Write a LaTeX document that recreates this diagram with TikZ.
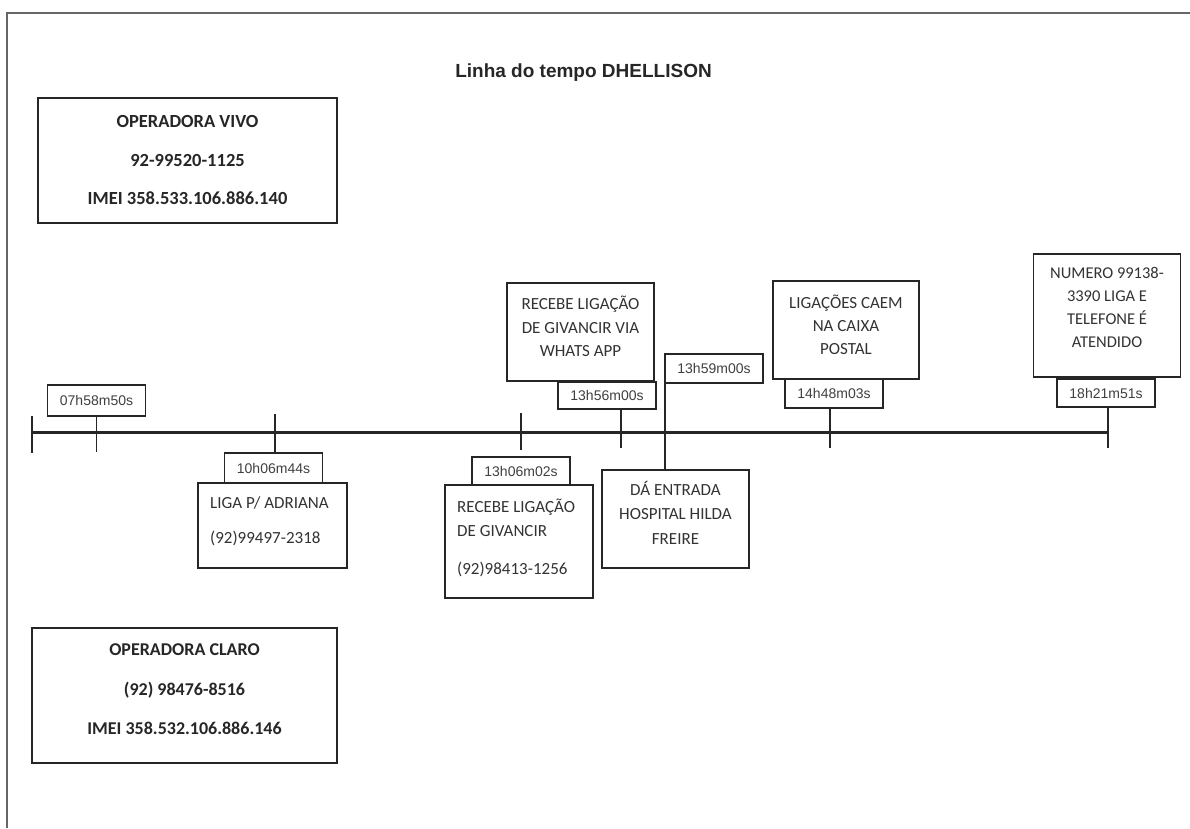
\documentclass[tikz,border=0pt]{standalone}
\usepackage{fontspec}
\setmainfont{Carlito}
\newfontfamily\arialf{Liberation Sans}
\begin{document}
\begin{tikzpicture}[x=1pt,y=-1pt,
  frameline/.style={draw=black!60, line width=2pt},
  box/.style={draw=black!85, line width=1.4pt, rectangle, inner sep=0pt, fill=white},
  optext/.style={font=\bfseries\fontsize{18.5}{38.5}\selectfont, text=black!85, align=center, inner sep=0pt},
  evtext/.style={font=\fontsize{17}{23.5}\selectfont, text=black!80, align=center, inner sep=0pt},
  timebox/.style={box, font=\arialf\fontsize{14}{16}\selectfont, text=black!75, minimum width=98pt},
  tickline/.style={line width=1.4pt, draw=black!85},
  titletext/.style={font=\arialf\bfseries\fontsize{19}{22}\selectfont, text=black!85, inner sep=0pt}
]
\fill[white] (0,0) rectangle (1190,828);
\useasboundingbox (0,0) rectangle (1190,828);
\draw[frameline] (7,828) -- (7,13) -- (1190,13);

\node[titletext] (title) at (583.5,73) {Linha do tempo DHELLISON};

% operator boxes
\node[box, minimum width=299pt, minimum height=125pt] (vivo) at (187.5,160.5) {};
\node[optext] (vivot) at (187.5,160) {OPERADORA VIVO\\92-99520-1125\\IMEI 358.533.106.886.140};
\node[box, minimum width=305pt, minimum height=135pt] (claro) at (184.5,695.5) {};
\node[optext, font=\bfseries\fontsize{18}{39.5}\selectfont] (clarot) at (184.5,689.5) {OPERADORA CLARO\\(92) 98476-8516\\IMEI 358.532.106.886.146};

% timeline
\coordinate (tlstart) at (32,432);
\coordinate (tlend) at (1108,432);
\draw[line width=3pt, black!85] (tlstart) -- (tlend);
\coordinate (k0a) at (32,416);
\coordinate (k0b) at (32,453);
\draw[tickline] (k0a) -- (k0b);

% event 1
\node[timebox, minimum height=31pt] (t1) at (96.5,400.5) {07h58m50s};
\coordinate (k1) at (96.5,452);
\draw[tickline] (t1.south) -- (k1);

% event 2
\node[timebox, minimum height=30pt] (t2) at (273.5,468) {10h06m44s};
\node[box, minimum width=149pt, minimum height=85pt] (e2) at (272.5,525.5) {};
\node[evtext, align=left, anchor=west] (e2t) at (210,521) {LIGA P/ ADRIANA\\[11.5pt](92)99497-2318};
\coordinate (k2) at (275,414);
\draw[tickline] (k2) -- (k2 |- t2.north);

% event 3
\node[timebox, minimum height=28pt] (t3) at (521,471) {13h06m02s};
\node[box, minimum width=148pt, minimum height=113pt] (e3) at (519,541.5) {};
\node[evtext, align=left, anchor=west] (e3t) at (457,538) {RECEBE LIGAÇÃO\\DE GIVANCIR\\[14.5pt](92)98413-1256};
\coordinate (k3a) at (521,413);
\coordinate (k3b) at (521,450);
\draw[tickline] (k3a) -- (k3b);

% event 4
\node[box, minimum width=147pt, minimum height=98pt] (e4) at (580.5,332) {};
\node[evtext] (e4t) at (580.5,326.5) {RECEBE LIGAÇÃO\\DE GIVANCIR VIA\\WHATS APP};
\node[timebox, minimum height=27pt] (t4) at (607,395.5) {13h56m00s};
\coordinate (k4a) at (621,409);
\coordinate (k4b) at (621,448);
\draw[tickline] (k4a) -- (k4b);

% event 5
\node[timebox, minimum height=29pt] (t5) at (714,368.5) {13h59m00s};
\node[box, minimum width=147pt, minimum height=98pt] (e5) at (675.5,519) {};
\node[evtext, font=\fontsize{17}{24.5}\selectfont] (e5t) at (675.5,512.5) {DÁ ENTRADA\\HOSPITAL HILDA\\FREIRE};
\coordinate (k5) at (665,383);
\draw[tickline] (k5) -- (k5 |- e5.north);

% event 6
\node[box, minimum width=146pt, minimum height=98pt] (e6) at (846,330) {};
\node[evtext, font=\fontsize{17}{23}\selectfont] (e6t) at (846,325) {LIGAÇÕES CAEM\\NA CAIXA\\POSTAL};
\node[timebox, minimum height=29pt] (t6) at (834,393.5) {14h48m03s};
\coordinate (k6a) at (830,408);
\coordinate (k6b) at (830,448);
\draw[tickline] (k6a) -- (k6b);

% event 7
\node[box, minimum width=147pt, minimum height=123pt] (e7) at (1107,315.5) {};
\node[evtext, font=\fontsize{16.5}{23}\selectfont] (e7t) at (1107,307.5) {NUMERO 99138-\\3390 LIGA E\\TELEFONE É\\ATENDIDO};
\node[timebox, minimum height=28pt] (t7) at (1106,393) {18h21m51s};
\coordinate (k7a) at (1108,407);
\coordinate (k7b) at (1108,448);
\draw[tickline] (k7a) -- (k7b);
\end{tikzpicture}
\end{document}
